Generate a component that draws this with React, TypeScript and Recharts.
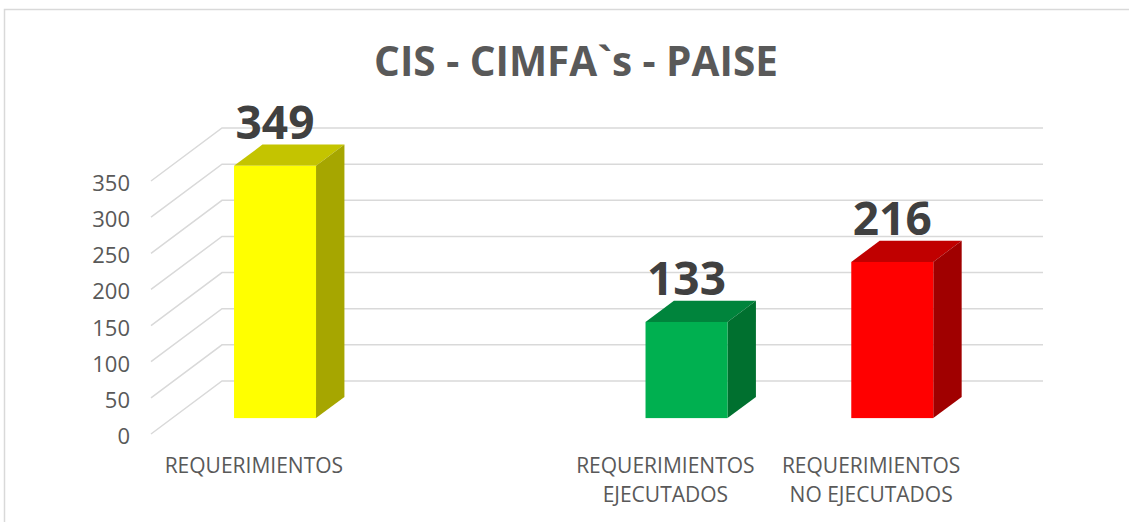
import React from 'react';
import { BarChart, Bar, XAxis, YAxis, CartesianGrid, LabelList } from 'recharts';

const categories = ['REQUERIMIENTOS', '', 'REQUERIMIENTOS\nEJECUTADOS', 'REQUERIMIENTOS\nNO EJECUTADOS'];
const values: (number | null)[] = [349, null, 133, 216];
const yTicks = [0, 50, 100, 150, 200, 250, 300, 350];
const frontColors = ['#FFFF00', 'none', '#00B050', '#FF0000'];
const topColors = ['#C4C400', 'none', '#00843C', '#C00000'];
const sideColors = ['#A6A600', 'none', '#00702F', '#A00000'];
const title = 'CIS - CIMFA`s - PAISE';

const data = categories.map((c, i) => ({ name: c, value: values[i], idx: i }));

const DEPTH_X = 71;
const DEPTH_Y = 53;
const FRONT = 0.3;
const BACK = 0.7;
const FONT = '"Open Sans", "Noto Sans", sans-serif';

const Bar3D = (props: any) => {
  const { x, y, width, height, payload } = props;
  if (payload == null || payload.value == null) return null;
  const i = payload.idx;
  const ox = FRONT * DEPTH_X;
  const oy = -FRONT * DEPTH_Y;
  const dx = (BACK - FRONT) * DEPTH_X;
  const dy = -(BACK - FRONT) * DEPTH_Y;
  const x0 = x + ox;
  const y0 = y + oy;
  const x1 = x0 + width;
  const y1 = y0 + height;
  return (
    <g>
      <polygon
        points={`${x0},${y0} ${x1},${y0} ${x1 + dx},${y0 + dy} ${x0 + dx},${y0 + dy}`}
        fill={topColors[i]}
      />
      <polygon
        points={`${x1},${y0} ${x1 + dx},${y0 + dy} ${x1 + dx},${y1 + dy} ${x1},${y1}`}
        fill={sideColors[i]}
      />
      <rect x={x0} y={y0} width={width} height={height} fill={frontColors[i]} />
    </g>
  );
};

const renderLabel = (props: any) => {
  const { x, y, width, value } = props;
  if (value == null) return null;
  const cx = x + FRONT * DEPTH_X + width / 2;
  const by = y - FRONT * DEPTH_Y - 26.5;
  return (
    <text
      x={cx}
      y={by}
      textAnchor="middle"
      fill="#404040"
      fontFamily={FONT}
      fontWeight={700}
      fontSize={46}
    >
      {value}
    </text>
  );
};

const gridLine = (p: any) => {
  const { x1, y1, x2 } = p;
  return (
    <path
      key={p.key ?? `g-${y1}`}
      d={`M${x1},${y1} L${x1 + DEPTH_X},${y1 - DEPTH_Y} L${x2 + DEPTH_X - 2},${y1 - DEPTH_Y}`}
      stroke="#D9D9D9"
      strokeWidth={1.5}
      fill="none"
    />
  );
};

const YTick = (props: any) => {
  const { x, y, payload } = props;
  return (
    <text x={x} y={y} dy={10} textAnchor="end" fill="#595959" fontFamily={FONT} fontSize={22}>
      {payload.value}
    </text>
  );
};

const XTick = (props: any) => {
  const { x, y, payload } = props;
  const lines = String(payload.value).split('\n');
  return (
    <text x={x} y={y + 39} textAnchor="middle" fill="#595959" fontFamily={FONT} fontSize={21}>
      {lines.map((l, k) => (
        <tspan key={k} x={x} dy={k === 0 ? 0 : 29}>
          {l}
        </tspan>
      ))}
    </text>
  );
};

export default function App() {
  return (
    <div style={{ position: 'absolute', left: 0, top: 0, width: 1129, height: 522, background: '#fff', overflow: 'hidden' }}>
      <svg width={1129} height={522} style={{ position: 'absolute', left: 0, top: 0 }}>
        <rect x={4.5} y={9.5} width={1140} height={540} fill="#fff" stroke="#D9D9D9" strokeWidth={1.5} />
        <text
          x={576}
          y={76}
          textAnchor="middle"
          fill="#595959"
          fontFamily={FONT}
          fontWeight={700}
          fontSize={40.5}
        >
          {title}
        </text>
      </svg>
      <div style={{ position: 'absolute', left: 0, top: 0 }}>
        <BarChart
          width={1129}
          height={522}
          data={data}
          margin={{ top: 181, right: 155, bottom: 58, left: 91 }}
          barCategoryGap="30%"
        >
          <CartesianGrid vertical={false} horizontal={gridLine} />
          <XAxis
            dataKey="name"
            height={30}
            axisLine={false}
            tickLine={false}
            tickSize={0}
            tickMargin={0}
            interval={0}
            tick={<XTick />}
          />
          <YAxis
            width={60}
            domain={[0, 350]}
            ticks={yTicks}
            axisLine={false}
            tickLine={false}
            tickSize={0}
            tickMargin={21}
            tick={<YTick />}
          />
          <Bar dataKey="value" shape={<Bar3D />} isAnimationActive={false}>
            <LabelList dataKey="value" content={renderLabel} />
          </Bar>
        </BarChart>
      </div>
    </div>
  );
}
